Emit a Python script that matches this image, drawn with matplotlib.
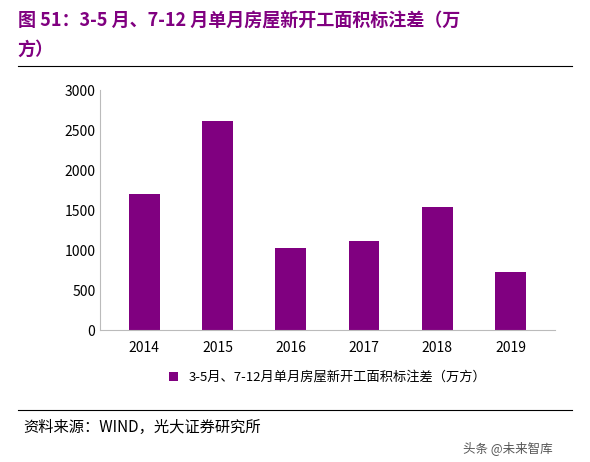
import matplotlib.pyplot as plt

plt.rcParams['font.family'] = ['Noto Sans CJK SC', 'DejaVu Sans']

years = ["2014", "2015", "2016", "2017", "2018", "2019"]
values = [1700, 2620, 1030, 1120, 1540, 730]
yticks = [0, 500, 1000, 1500, 2000, 2500, 3000]

purple = "#800080"
fig = plt.figure(figsize=(5.9, 4.62), dpi=100)
ax = fig.add_axes([0.17, 0.285, 0.77, 0.52])
ax.bar(years, values, width=0.42, color=purple, label="3-5月、7-12月单月房屋新开工面积标注差（万方）")
ax.set_ylim(0, 3000)
ax.set_yticks(yticks)
ax.set_xlim(-0.6, 5.6)
for s in ["top", "right"]:
    ax.spines[s].set_visible(False)
ax.spines["left"].set_color("#bbbbbb")
ax.spines["bottom"].set_color("#bbbbbb")
ax.tick_params(axis="y", length=0, labelsize=10)
ax.tick_params(axis="x", length=0, labelsize=10, pad=8)
ax.legend(loc="upper center", bbox_to_anchor=(0.5, -0.12), frameon=False,
          fontsize=9.5, handlelength=0.7, handleheight=0.7)

fig.text(0.03, 0.955, "图 51：3-5 月、7-12 月单月房屋新开工面积标注差（万", color=purple,
         fontsize=13, fontweight="bold", va="center")
fig.text(0.03, 0.893, "方）", color=purple, fontsize=13, fontweight="bold", va="center")
fig.add_artist(plt.Line2D([0.03, 0.97], [0.858, 0.858], color="black", lw=0.8))
fig.add_artist(plt.Line2D([0.03, 0.97], [0.113, 0.113], color="black", lw=0.8))
fig.text(0.04, 0.075, "资料来源：WIND，光大证券研究所", fontsize=11, va="center")
fig.text(0.86, 0.03, "头条 @未来智库", fontsize=9, color="#555555", ha="center", va="center")

fig.savefig("out.png", dpi=100)
